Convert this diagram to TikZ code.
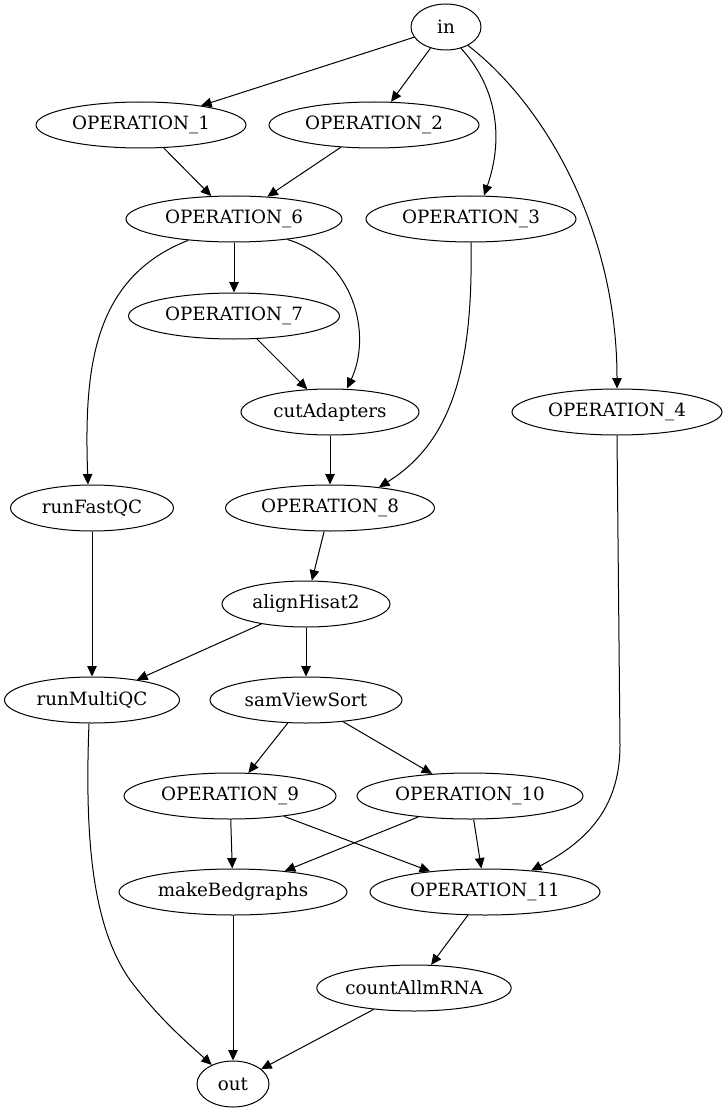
\documentclass[tikz,border=0pt]{standalone}
\usepackage{fontspec}
\setmainfont{DejaVu Serif}
\usetikzlibrary{shapes.geometric,arrows.meta}
\tikzset{
  op/.style={ellipse,draw,line width=1pt,inner sep=0pt,minimum height=46pt,font=\fontsize{18.3}{21}\selectfont},
  edge/.style={-{Triangle[length=10.5pt,width=9.5pt]},line width=1pt}
}
\begin{document}
\begin{tikzpicture}[x=1pt,y=-1pt]
\useasboundingbox (0,0) rectangle (727,1115);
\node[op,minimum width=70pt] (in) at (446,27) {in};
\node[op,minimum width=210pt] (op1) at (141,125) {OPERATION\_1};
\node[op,minimum width=210pt] (op2) at (374,125) {OPERATION\_2};
\node[op,minimum width=216pt] (op6) at (234,219) {OPERATION\_6};
\node[op,minimum width=210pt] (op3) at (471,219) {OPERATION\_3};
\node[op,minimum width=211pt] (op7) at (234,316) {OPERATION\_7};
\node[op,minimum width=178pt] (cut) at (330,412) {cutAdapters};
\node[op,minimum width=210pt] (op4) at (617,412) {OPERATION\_4};
\node[op,minimum width=163pt] (fqc) at (92,508) {runFastQC};
\node[op,minimum width=209pt] (op8) at (330,508) {OPERATION\_8};
\node[op,minimum width=168pt] (hs) at (306,604) {alignHisat2};
\node[op,minimum width=175pt] (mqc) at (92,700) {runMultiQC};
\node[op,minimum width=192pt] (svs) at (306,700) {samViewSort};
\node[op,minimum width=212pt] (op9) at (230,796) {OPERATION\_9};
\node[op,minimum width=226pt] (op10) at (470,796) {OPERATION\_10};
\node[op,minimum width=228pt] (mb) at (233,892) {makeBedgraphs};
\node[op,minimum width=230pt] (op11) at (485,892) {OPERATION\_11};
\node[op,minimum width=182pt] (cnt) at (414,988) {countAllmRNA};
\node[op,minimum width=72pt] (out) at (233,1084) {out};

\draw[edge] (in) -- (op1);
\draw[edge] (in) -- (op2);
\draw[edge] (in.-55) .. controls (495,85) and (505,135) .. ([xshift=13pt]op3.north);
\draw[edge] (in.-40) .. controls (545,105) and (617,230) .. (op4.north);
\draw[edge] (op1) -- (op6);
\draw[edge] (op2) -- (op6);
\draw[edge] (op6.-155) .. controls (92,278) and (84,370) .. ([xshift=-4pt]fqc.north);
\draw[edge] (op6) -- (op7);
\draw[edge] (op6.-21) .. controls (355,260) and (372,335) .. ([xshift=17pt]cut.north);
\draw[edge] (op7) -- (cut);
\draw[edge] (op3.south) .. controls (473,360) and (455,440) .. (op8.23);
\draw[edge] (cut) -- (op8);
\draw[edge] (op4.south) -- (620,745) .. controls (620,805) and (590,840) .. (op11.25);
\draw[edge] (fqc) -- (mqc);
\draw[edge] (op8) -- (hs);
\draw[edge] (hs) -- (mqc);
\draw[edge] (hs) -- (svs);
\draw[edge] ([xshift=-3pt]mqc.south) .. controls (84,850) and (95,930) .. (130,980) .. controls (160,1020) and (190,1045) .. (out.138);
\draw[edge] (svs) -- (op9);
\draw[edge] (svs) -- (op10);
\draw[edge] (op9) -- (mb);
\draw[edge] (op9) -- (op11);
\draw[edge] (op10) -- (mb);
\draw[edge] (op10) -- (op11);
\draw[edge] (op11) -- (cnt);
\draw[edge] (mb) -- (out);
\draw[edge] (cnt) -- (out);
\end{tikzpicture}
\end{document}
